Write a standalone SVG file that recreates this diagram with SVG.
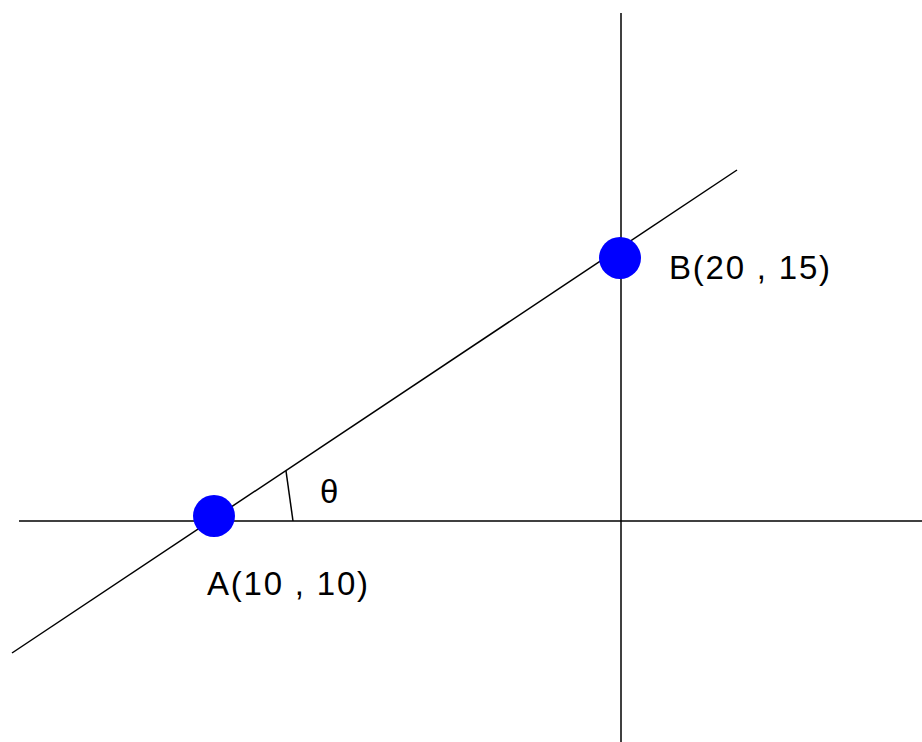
<svg xmlns="http://www.w3.org/2000/svg" width="922" height="742" viewBox="0 0 922 742">
<style>
.ln{stroke:#000;stroke-width:1.5;fill:none}
.pt{fill:#0000ff}
.lb{font-family:"Liberation Sans",Arial,sans-serif;font-size:33px;fill:#000;letter-spacing:1.8px}
</style>
<rect width="922" height="742" fill="#fff"/>
<g id="connectors">
<line class="ln" x1="19" y1="521" x2="922" y2="521"/>
<line class="ln" x1="621" y1="13" x2="621" y2="742"/>
<line class="ln" x1="12" y1="653" x2="737" y2="170"/>
<line class="ln" x1="286" y1="471" x2="293" y2="521"/>
</g>
<g id="A">
<circle class="pt" cx="214" cy="516" r="21"/>
<text class="lb" x="207" y="595">A(10 , 10)</text>
</g>
<g id="B">
<circle class="pt" cx="620" cy="258" r="21"/>
<text class="lb" x="669" y="279">B(20 , 15)</text>
</g>
<g id="theta">
<text class="lb" x="320" y="503" style="letter-spacing:0">θ</text>
</g>
</svg>
